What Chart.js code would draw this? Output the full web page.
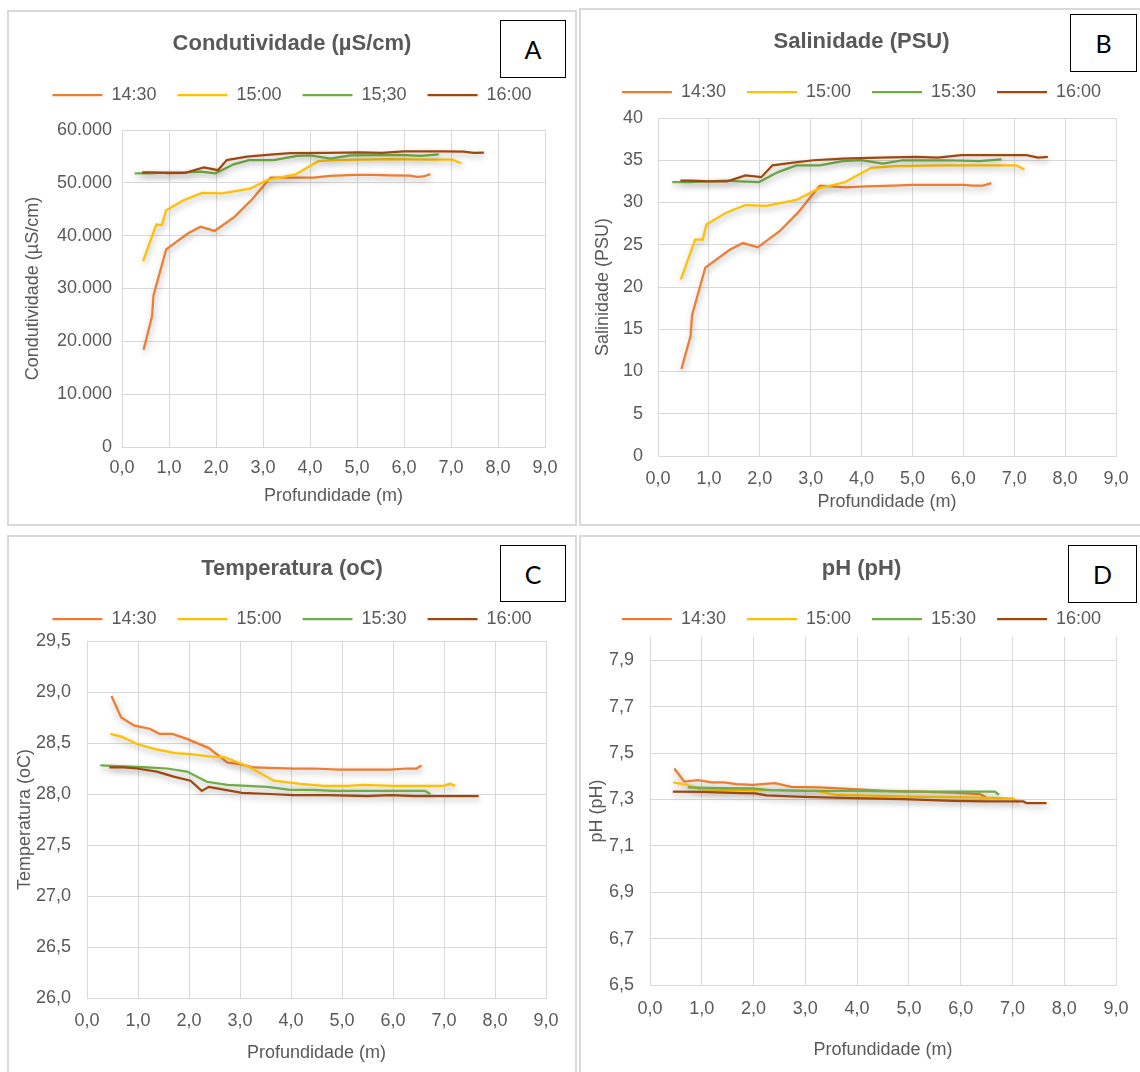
<!DOCTYPE html>
<html lang="pt">
<head>
<meta charset="utf-8">
<title>Perfis</title>
<script src="https://cdn.jsdelivr.net/npm/chart.js@4.4.1/dist/chart.umd.min.js"></script>
<style>
    html, body { margin: 0; padding: 0; background: #fff; }
    body { width: 1140px; height: 1072px; position: relative; overflow: hidden; }
    .panel { position: absolute; box-sizing: border-box; border: 2px solid #d9d9d9; background: #fff; }
    .panel canvas { position: absolute; left: 0; top: 0; }
    .tag { position: absolute; box-sizing: border-box; border: 1px solid #000; background: #fff;
           font: 25px Lato, "Open Sans", sans-serif; color: #000;
           display: flex; align-items: center; justify-content: center; }
</style>
</head>
<body>
<div class="panel" style="left:7px;top:10px;width:570px;height:516px"><canvas id="cA"></canvas></div>
<div class="panel" style="left:579px;top:8px;width:565px;height:518px"><canvas id="cB"></canvas></div>
<div class="panel" style="left:7px;top:535px;width:570px;height:540px"><canvas id="cC"></canvas></div>
<div class="panel" style="left:579px;top:535px;width:565px;height:540px"><canvas id="cD"></canvas></div>
<div class="tag" style="left:500px;top:20px;width:66px;height:58px">A</div>
<div class="tag" style="left:1070px;top:14px;width:67px;height:58px">B</div>
<div class="tag" style="left:500px;top:545px;width:66px;height:57px">C</div>
<div class="tag" style="left:1068px;top:545px;width:69px;height:58px">D</div>

<script>
"use strict";

const TXT = "#595959";
const GRID = "#d9d9d9";
const COLORS = ["#ED7D31", "#FFC000", "#70AD47", "#9E480E"];
const LABELS_A = ["14:30", "15:00", "15;30", "16:00"];
const LABELS = ["14:30", "15:00", "15:30", "16:00"];

const DEPTH_TICKS = [0, 1, 2, 3, 4, 5, 6, 7, 8, 9];
const DEPTH_TICK_LABELS = ["0,0", "1,0", "2,0", "3,0", "4,0", "5,0", "6,0", "7,0", "8,0", "9,0"];

// A - condutividade
const COND_TICKS = [0, 10000, 20000, 30000, 40000, 50000, 60000];
const COND_TICK_LABELS = ["0", "10.000", "20.000", "30.000", "40.000", "50.000", "60.000"];
const COND_1430_D = [0.46, 0.64, 0.67, 0.94, 1.40, 1.67, 1.97, 2.40, 2.77, 3.16, 3.72, 4.08, 4.43, 4.96, 5.32, 5.71, 6.13, 6.28, 6.42, 6.56];
const COND_1430_V = [18400, 24800, 28700, 37400, 40400, 41700, 40900, 43600, 46900, 51000, 51000, 51000, 51300, 51500, 51500, 51400, 51350, 51150, 51200, 51650];
const COND_1500_D = [0.45, 0.73, 0.85, 0.94, 1.31, 1.70, 2.13, 2.72, 3.09, 3.69, 4.18, 4.50, 5.07, 5.71, 6.63, 7.02, 7.22];
const COND_1500_V = [35200, 42100, 42000, 44800, 46700, 48100, 48000, 48900, 50500, 51600, 54100, 54300, 54400, 54500, 54400, 54400, 53700];
const COND_1530_D = [0.27, 0.60, 0.96, 1.31, 1.67, 1.99, 2.38, 2.70, 3.23, 3.72, 4.01, 4.43, 4.86, 5.92, 6.35, 6.74];
const COND_1530_V = [51800, 51800, 52000, 52000, 52100, 51800, 53500, 54300, 54300, 55100, 55200, 54600, 55200, 55300, 55100, 55400];
const COND_1600_D = [0.43, 0.67, 0.99, 1.35, 1.74, 2.04, 2.23, 2.66, 3.09, 3.58, 4.36, 5.07, 5.53, 5.99, 6.84, 7.27, 7.48, 7.70];
const COND_1600_V = [52000, 52000, 51850, 51900, 52900, 52400, 54300, 54950, 55300, 55600, 55650, 55750, 55650, 55950, 55950, 55900, 55650, 55700];

// B - salinidade
const SAL_TICKS = [0, 5, 10, 15, 20, 25, 30, 35, 40];
const SAL_TICK_LABELS = ["0", "5", "10", "15", "20", "25", "30", "35", "40"];
const SAL_1430_D = [0.46, 0.64, 0.67, 0.93, 1.41, 1.67, 1.96, 2.39, 2.75, 3.18, 3.70, 4.09, 4.62, 5.01, 5.99, 6.19, 6.39, 6.55];
const SAL_1430_V = [10.3, 14.2, 16.7, 22.3, 24.4, 25.2, 24.7, 26.6, 28.8, 32.0, 31.8, 31.9, 32.0, 32.1, 32.1, 32.0, 32.0, 32.3];
const SAL_1500_D = [0.45, 0.73, 0.88, 0.95, 1.34, 1.72, 2.13, 2.72, 3.18, 3.67, 4.19, 4.68, 5.66, 6.19, 7.04, 7.20];
const SAL_1500_V = [20.9, 25.6, 25.6, 27.4, 28.8, 29.7, 29.6, 30.3, 31.7, 32.4, 34.1, 34.3, 34.4, 34.4, 34.4, 33.9];
const SAL_1530_D = [0.28, 0.62, 0.98, 1.34, 1.60, 1.98, 2.36, 2.72, 3.18, 3.63, 3.99, 4.42, 4.81, 5.66, 6.32, 6.75];
const SAL_1530_V = [32.4, 32.4, 32.5, 32.6, 32.5, 32.4, 33.6, 34.4, 34.4, 34.9, 35.0, 34.6, 35.0, 35.0, 34.9, 35.1];
const SAL_1600_D = [0.44, 0.67, 0.98, 1.36, 1.72, 2.03, 2.25, 2.62, 3.05, 3.63, 4.35, 5.08, 5.50, 5.96, 6.84, 7.24, 7.47, 7.66];
const SAL_1600_V = [32.6, 32.6, 32.5, 32.5, 33.2, 33.0, 34.4, 34.7, 35.0, 35.2, 35.3, 35.4, 35.3, 35.6, 35.6, 35.6, 35.3, 35.4];

// C - temperatura
const TEMP_TICKS = [26.0, 26.5, 27.0, 27.5, 28.0, 28.5, 29.0, 29.5];
const TEMP_TICK_LABELS = ["26,0", "26,5", "27,0", "27,5", "28,0", "28,5", "29,0", "29,5"];
const TEMP_1430_D = [0.48, 0.67, 0.93, 1.23, 1.42, 1.67, 1.96, 2.39, 2.75, 3.01, 3.27, 4.05, 4.44, 4.93, 5.33, 5.95, 6.27, 6.46, 6.56];
const TEMP_1430_V = [28.96, 28.75, 28.67, 28.64, 28.59, 28.59, 28.54, 28.45, 28.31, 28.29, 28.26, 28.25, 28.25, 28.24, 28.24, 28.24, 28.25, 28.25, 28.28];
const TEMP_1500_D = [0.46, 0.69, 0.98, 1.34, 1.73, 2.03, 2.39, 2.71, 3.20, 3.66, 4.18, 4.64, 5.10, 5.42, 6.01, 6.99, 7.12, 7.22];
const TEMP_1500_V = [28.59, 28.56, 28.49, 28.44, 28.40, 28.39, 28.37, 28.36, 28.26, 28.13, 28.10, 28.08, 28.08, 28.09, 28.08, 28.08, 28.10, 28.08];
const TEMP_1530_D = [0.26, 0.72, 1.18, 1.57, 1.96, 2.35, 2.75, 3.14, 3.53, 3.99, 4.44, 4.84, 5.36, 6.01, 6.63, 6.73];
const TEMP_1530_V = [28.28, 28.27, 28.26, 28.25, 28.22, 28.12, 28.09, 28.08, 28.07, 28.04, 28.04, 28.03, 28.03, 28.03, 28.03, 28.00];
const TEMP_1600_D = [0.44, 0.72, 0.98, 1.37, 1.70, 2.03, 2.25, 2.39, 2.71, 3.04, 3.59, 4.05, 4.71, 5.49, 5.95, 6.41, 7.12, 7.68];
const TEMP_1600_V = [28.26, 28.26, 28.25, 28.22, 28.17, 28.13, 28.03, 28.07, 28.04, 28.01, 28.00, 27.99, 27.99, 27.98, 27.99, 27.98, 27.98, 27.98];

// D - pH
const PH_TICKS = [6.5, 6.7, 6.9, 7.1, 7.3, 7.5, 7.7, 7.9];
const PH_TICK_LABELS = ["6,5", "6,7", "6,9", "7,1", "7,3", "7,5", "7,7", "7,9"];
const PH_1430_D = [0.47, 0.66, 0.93, 1.19, 1.42, 1.67, 1.99, 2.41, 2.73, 3.28, 3.93, 4.57, 5.21, 5.86, 6.37, 6.49];
const PH_1430_V = [7.433, 7.377, 7.383, 7.373, 7.373, 7.366, 7.363, 7.370, 7.354, 7.352, 7.344, 7.337, 7.333, 7.329, 7.323, 7.309];
const PH_1500_D = [0.45, 0.71, 0.97, 1.35, 1.99, 2.64, 3.22, 3.60, 4.25, 5.21, 6.18, 7.01, 7.11];
const PH_1500_V = [7.373, 7.363, 7.344, 7.340, 7.340, 7.340, 7.337, 7.319, 7.316, 7.311, 7.309, 7.304, 7.287];
const PH_1530_D = [0.73, 1.35, 1.99, 2.32, 2.96, 3.93, 4.89, 5.86, 6.66, 6.74];
const PH_1530_V = [7.352, 7.349, 7.347, 7.340, 7.337, 7.337, 7.334, 7.333, 7.333, 7.320];
const PH_1600_D = [0.44, 1.03, 1.74, 2.03, 2.25, 2.96, 3.93, 4.89, 5.86, 6.50, 7.21, 7.27, 7.66];
const PH_1600_V = [7.334, 7.332, 7.327, 7.326, 7.317, 7.311, 7.306, 7.301, 7.294, 7.291, 7.291, 7.284, 7.284];

const LEGEND_PAD = 21;

function pairs(d, v) {
    return d.map((x, i) => ({ x, y: v[i] }));
}

// soft drop shadow under the lines, like the Excel original
const lineShadow = {
    id: "lineShadow",
    beforeDatasetsDraw(chart) {
        const c = chart.ctx;
        c.save();
        c.shadowColor = "rgba(0,0,0,0.32)";
        c.shadowBlur = 6;
        c.shadowOffsetX = 1;
        c.shadowOffsetY = 3;
    },
    afterDatasetsDraw(chart) {
        chart.ctx.restore();
    }
};

function legendHeight(h) {
    return {
        id: "legendHeight",
        beforeInit(chart) {
            const fit = chart.legend.fit;
            chart.legend.fit = function () {
                fit.call(this);
                this.height = h;
            };
        }
    };
}

function makeChart(cfg, g) {
    const canvas = document.getElementById(cfg.canvas);
    canvas.width = g.w;
    canvas.height = g.h;
    const titleTop = g.titleY - 13.2;
    const legendTop = g.legendY - LEGEND_PAD - 9;
    const titleBottom = legendTop - titleTop - 26.4;

    const datasets = cfg.series.map((s, i) => ({
        label: cfg.labels[i],
        data: pairs(s[0], s[1]),
        borderColor: COLORS[i],
        backgroundColor: COLORS[i],
        borderWidth: 2.25,
        pointRadius: 0,
        tension: 0,
        fill: false,
        order: 3 - i
    }));

    return new Chart(canvas, {
        type: "line",
        data: { datasets },
        options: {
            responsive: false, animation: false, devicePixelRatio: 1,
            font: { family: '"Liberation Sans", Arial, sans-serif' },
            layout: { padding: 0 },
            plugins: {
                title: {
                    display: true, text: cfg.title, color: TXT,
                    font: { size: 22, weight: "bold" },
                    padding: { top: titleTop, bottom: titleBottom }
                },
                legend: {
                    display: true, position: "top",
                    labels: {
                        color: TXT, font: { size: 18 },
                        usePointStyle: true, pointStyle: "line", pointStyleWidth: 50,
                        padding: LEGEND_PAD,
                        sort: (a, b) => a.datasetIndex - b.datasetIndex
                    }
                },
                tooltip: { enabled: false }
            },
            scales: {
                x: {
                    type: "linear", min: 0, max: 9,
                    afterBuildTicks: s => { s.ticks = DEPTH_TICKS.map(v => ({ value: v })); },
                    afterFit: s => { s.height = g.h - g.bottom; },
                    grid: { color: GRID, drawTicks: false },
                    border: { color: GRID },
                    ticks: {
                        color: TXT, font: { size: 18 }, padding: g.xTickPad,
                        autoSkip: false, maxRotation: 0,
                        callback: (v, i) => DEPTH_TICK_LABELS[i]
                    },
                    title: {
                        display: true, text: "Profundidade (m)", color: TXT, font: { size: 18 },
                        padding: { top: 0, bottom: g.xTitleB - 10.8 }
                    }
                },
                y: {
                    type: "linear", min: cfg.yMin, max: cfg.yMax,
                    afterBuildTicks: s => { s.ticks = cfg.yTicks.map(v => ({ value: v })); },
                    afterFit: s => { s.width = g.left; },
                    grid: { color: GRID, drawTicks: false },
                    border: { color: GRID },
                    ticks: {
                        color: TXT, font: { size: 18 }, padding: g.yTickPad,
                        autoSkip: false,
                        callback: (v, i) => cfg.yTickLabels[i]
                    },
                    title: {
                        display: true, text: cfg.yTitle, color: TXT, font: { size: 18 },
                        padding: { top: g.yTitleX - 10.8, bottom: 0 }
                    }
                },
                // empty right-hand box: keeps the plot narrow while title and legend stay centred on the panel
                gutter: {
                    position: "right", display: true,
                    grid: { display: false }, border: { display: false }, ticks: { display: false },
                    afterFit: s => { s.width = g.padR; }
                }
            }
        },
        plugins: [legendHeight(g.top - legendTop), lineShadow]
    });
}

document.addEventListener("DOMContentLoaded", () => {
    makeChart({
        canvas: "cA", title: "Condutividade (µS/cm)", yTitle: "Condutividade (µS/cm)",
        labels: LABELS_A, yMin: 0, yMax: 60000, yTicks: COND_TICKS, yTickLabels: COND_TICK_LABELS,
        series: [[COND_1430_D, COND_1430_V], [COND_1500_D, COND_1500_V], [COND_1530_D, COND_1530_V], [COND_1600_D, COND_1600_V]]
    }, { w: 566, h: 512, left: 113, padR: 30, top: 118, bottom: 435, titleY: 32, legendY: 83, xTickPad: 10, xTitleB: 28, yTitleX: 24, yTickPad: 10 });

    makeChart({
        canvas: "cB", title: "Salinidade (PSU)", yTitle: "Salinidade (PSU)",
        labels: LABELS, yMin: 0, yMax: 40, yTicks: SAL_TICKS, yTickLabels: SAL_TICK_LABELS,
        series: [[SAL_1430_D, SAL_1430_V], [SAL_1500_D, SAL_1500_V], [SAL_1530_D, SAL_1530_V], [SAL_1600_D, SAL_1600_V]]
    }, { w: 561, h: 514, left: 77, padR: 26, top: 108, bottom: 446, titleY: 32, legendY: 82, xTickPad: 12, xTitleB: 22, yTitleX: 22, yTickPad: 15 });

    makeChart({
        canvas: "cC", title: "Temperatura (oC)", yTitle: "Temperatura (oC)",
        labels: LABELS, yMin: 26, yMax: 29.5, yTicks: TEMP_TICKS, yTickLabels: TEMP_TICK_LABELS,
        series: [[TEMP_1430_D, TEMP_1430_V], [TEMP_1500_D, TEMP_1500_V], [TEMP_1530_D, TEMP_1530_V], [TEMP_1600_D, TEMP_1600_V]]
    }, { w: 566, h: 536, left: 78, padR: 29, top: 104, bottom: 461, titleY: 32, legendY: 82, xTickPad: 12, xTitleB: 20, yTitleX: 16, yTickPad: 16 });

    makeChart({
        canvas: "cD", title: "pH (pH)", yTitle: "pH (pH)",
        labels: LABELS, yMin: 6.5, yMax: 8.0, yTicks: PH_TICKS, yTickLabels: PH_TICK_LABELS,
        series: [[PH_1430_D, PH_1430_V], [PH_1500_D, PH_1500_V], [PH_1530_D, PH_1530_V], [PH_1600_D, PH_1600_V]]
    }, { w: 561, h: 536, left: 69, padR: 26, top: 100, bottom: 448, titleY: 32, legendY: 82, xTickPad: 13, xTitleB: 23, yTitleX: 16, yTickPad: 16 });
});
</script>
</body>
</html>
